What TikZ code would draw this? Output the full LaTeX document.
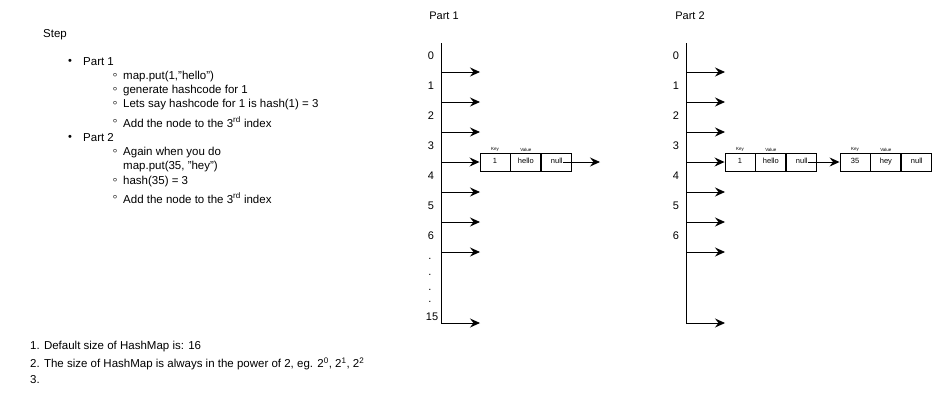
\documentclass[tikz,border=0pt]{standalone}
\usepackage{fontspec}
\setmainfont{Liberation Sans}
\usetikzlibrary{arrows.meta,positioning}

\begin{document}
\begin{tikzpicture}[x=1pt,y=-1pt,
    txt/.style={anchor=west,inner sep=0pt,font=\fontsize{11.5}{13}\selectfont},
    idx/.style={inner sep=0pt,font=\fontsize{11}{13}\selectfont},
    ring/.style={anchor=base,inner sep=0pt,text height=6pt,text depth=0pt,font=\fontsize{14}{14}\selectfont},
    cell/.style={draw,line width=0.9pt,minimum width=30pt,minimum height=18pt,inner sep=0pt,
        text height=5.5pt,text depth=1.6pt,font=\fontsize{7.5}{9}\selectfont},
    tag/.style={inner sep=0.8pt,font=\fontsize{4.5}{5}\selectfont},
    arr/.style={-{Stealth[length=10pt,width=9pt,inset=3.5pt]},line width=0.9pt}]
    \useasboundingbox (0,0) rectangle (932,402);

    % Steps
    \node[txt] (step) at (43,35) {Step};
    \node[idx] (dot1) at (70,62) {•};
    \node[txt] (part1) at (83,62) {Part 1};
    \node[ring] (o1) at (115,79.5) {◦};
    \node[txt] (put1) at (123,77) {map.put(1,"hello")};
    \node[ring] (o2) at (115,93.5) {◦};
    \node[txt] (gen) at (123,91) {generate hashcode for 1};
    \node[ring] (o3) at (115,107.5) {◦};
    \node[txt] (say) at (123,105) {Lets say hashcode for 1 is hash(1) = 3};
    \node[ring] (o4) at (115,125.5) {◦};
    \node[txt] (add1) at (123,122) {Add the node to the 3\textsuperscript{rd} index};
    \node[idx] (dot2) at (70,138) {•};
    \node[txt] (part2) at (83,138) {Part 2};
    \node[ring] (o5) at (115,155.5) {◦};
    \node[txt] (again) at (123,153) {Again when you do};
    \node[txt] (put2) at (123,167) {map.put(35, "hey")};
    \node[ring] (o6) at (115,184.5) {◦};
    \node[txt] (hash) at (123,182) {hash(35) = 3};
    \node[ring] (o7) at (115,201.5) {◦};
    \node[txt] (add2) at (123,198) {Add the node to the 3\textsuperscript{rd} index};

    % Notes
    \node[txt] (n1) at (30,347) {1. Default size of HashMap is: 16};
    \node[txt] (n2) at (30,364) {2. The size of HashMap is always in the power of 2, eg. 2\textsuperscript{0}, 2\textsuperscript{1}, 2\textsuperscript{2}};
    \node[txt] (n3) at (30,380) {3.};

    % Part 1 table
    \node[idx] (title1) at (444,16) {Part 1};
    \coordinate (top1) at (441,43);
    \coordinate (bot1) at (441,323);
    \draw[line width=0.9pt] (top1) -- (bot1);
    \foreach \i in {0,...,6} {
        \pgfmathsetmacro{\y}{56+30*\i}
        \node[idx] (a\i) at (431,\y) {\i};
        \coordinate (s\i) at (441,\y+16);
        \coordinate (t\i) at (480,\y+16);
    }
    \foreach \i in {0,1,2,4,5,6} {
        \draw[arr] (s\i) -- (t\i);
    }
    \foreach \y [count=\k] in {262,278,293,305} {
        \node[idx] (dd\k) at (430,\y-3) {.};
    }
    \node[idx] (a15) at (432,317) {15};
    \coordinate (t15) at (480,323);
    \draw[arr] (bot1) -- (t15);

    % Part 1 entry
    \node[cell] (k1) at (495,162) {1};
    \node[cell,right=0pt of k1] (v1) {hello};
    \node[cell,right=0pt of v1] (x1) {null};
    \node[tag,above=0pt of k1] (kt1) {Key};
    \node[tag,above=0pt of v1] (vt1) {Value};
    \coordinate (q1) at (600,162);
    \draw[arr] (s3) -- (k1.west);
    \draw[arr] ([xshift=6pt]x1.center) -- (q1);

    % Part 2 table
    \node[idx] (title2) at (690,16) {Part 2};
    \coordinate (top2) at (686,43);
    \coordinate (bot2) at (686,323);
    \draw[line width=0.9pt] (top2) -- (bot2);
    \foreach \i in {0,...,6} {
        \pgfmathsetmacro{\y}{56+30*\i}
        \node[idx] (b\i) at (676,\y) {\i};
        \coordinate (u\i) at (686,\y+16);
        \coordinate (w\i) at (725,\y+16);
    }
    \foreach \i in {0,1,2,4,5,6} {
        \draw[arr] (u\i) -- (w\i);
    }
    \coordinate (w15) at (725,323);
    \draw[arr] (bot2) -- (w15);

    % Part 2 entries
    \node[cell] (k2) at (740,162) {1};
    \node[cell,right=0pt of k2] (v2) {hello};
    \node[cell,right=0pt of v2] (x2) {null};
    \node[tag,above=0pt of k2] (kt2) {Key};
    \node[tag,above=0pt of v2] (vt2) {Value};
    \node[cell] (k3) at (855,162) {35};
    \node[cell,right=0pt of k3] (v3) {hey};
    \node[cell,right=0pt of v3] (x3) {null};
    \node[tag,above=0pt of k3] (kt3) {Key};
    \node[tag,above=0pt of v3] (vt3) {Value};
    \draw[arr] (u3) -- (k2.west);
    \draw[arr] ([xshift=6pt]x2.center) -- (k3.west);
\end{tikzpicture}
\end{document}
